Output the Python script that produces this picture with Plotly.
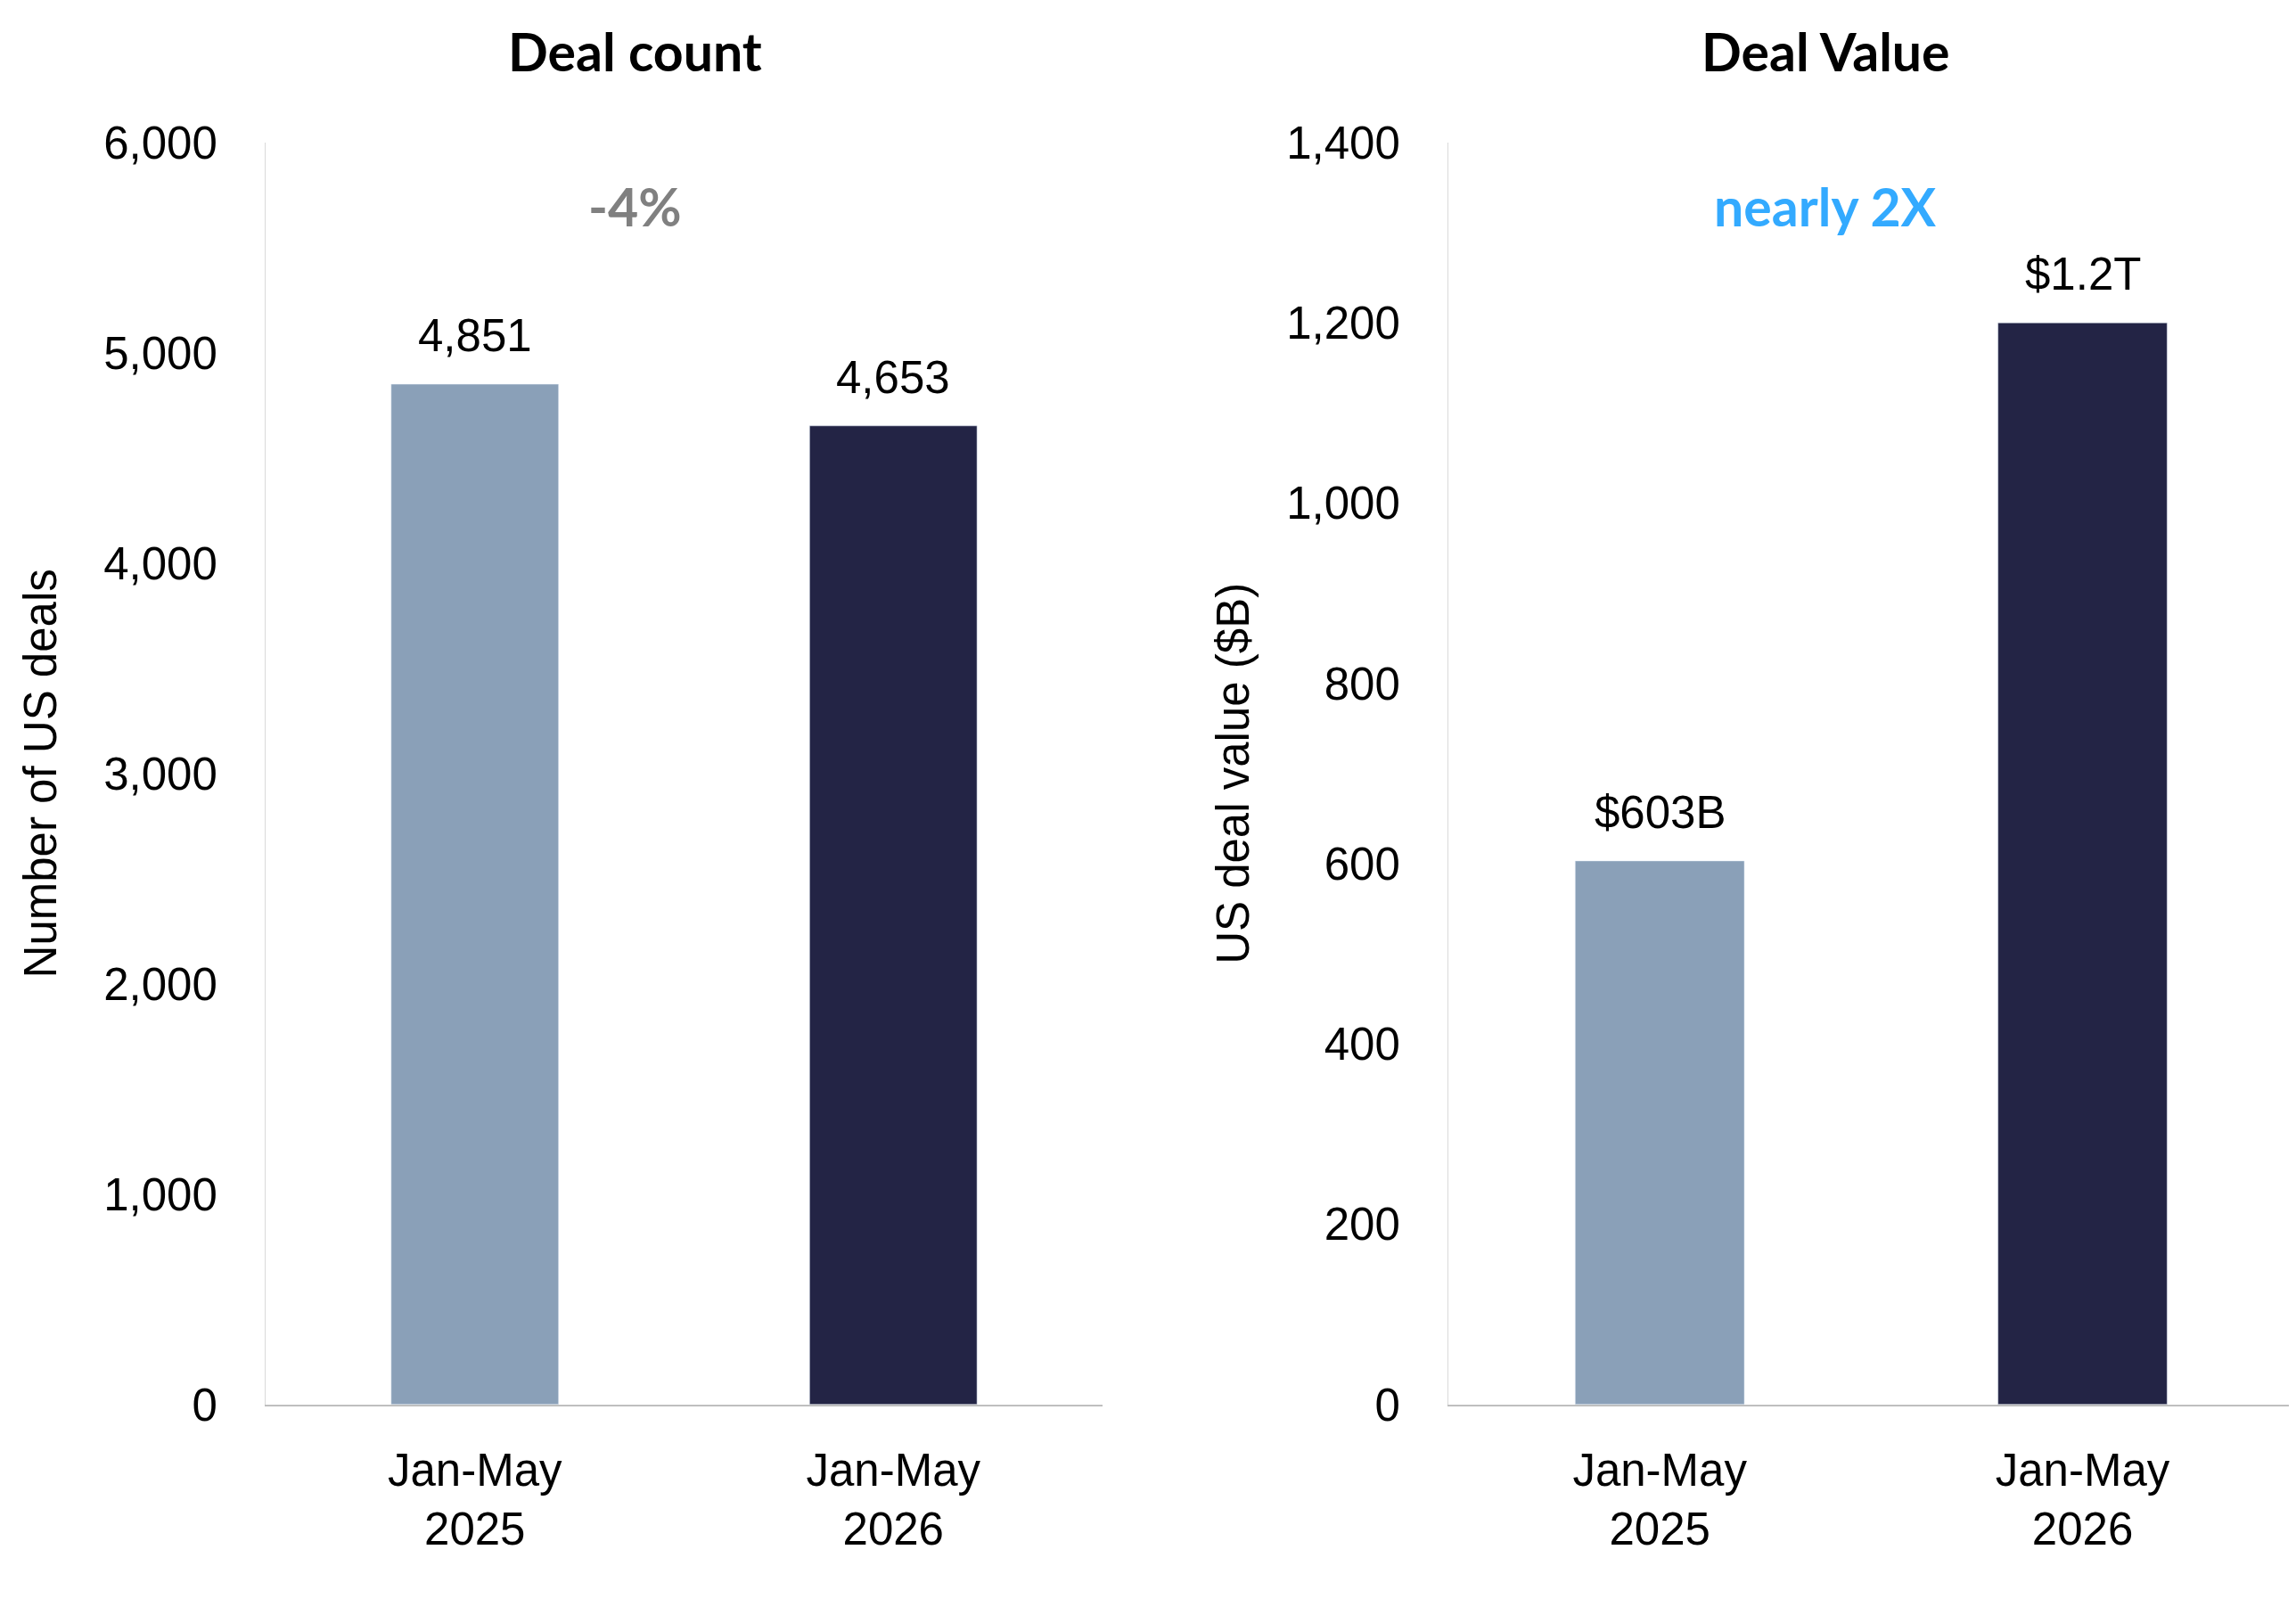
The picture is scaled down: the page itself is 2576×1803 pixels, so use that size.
import plotly.graph_objects as go

categories = ["Jan-May<br>2025", "Jan-May<br>2026"]
deal_count = [4851, 4653]
deal_count_labels = ["4,851", "4,653"]
deal_value = [603, 1200]
deal_value_labels = ["$603B", "$1.2T"]
bar_colors = ["#8AA0B8", "#232445"]
titles = ["Deal count", "Deal Value"]
changes = ["-4%", "nearly 2X"]
change_colors = ["#808080", "#33AAFF"]

W, H = 2576, 1803
fig = go.Figure()

fig.add_trace(go.Bar(x=categories, y=deal_count, marker_color=bar_colors,
                     width=0.4, xaxis="x", yaxis="y", hoverinfo="skip"))
fig.add_trace(go.Bar(x=categories, y=deal_value, marker_color=bar_colors,
                     width=0.4, xaxis="x2", yaxis="y2", hoverinfo="skip"))

tick_font = dict(family="Liberation Sans, Arial", size=51, color="#000000")
ydom = [1 - 1590 / H, 1 - 128 / H]
xd1 = [290 / W, 1229 / W]
xd2 = [1617 / W, 0.996]

axis_common_x = dict(showgrid=False, showline=True, linecolor="#BFBFBF", linewidth=2,
                     ticks="", tickfont=tick_font, zeroline=False, fixedrange=True,
                     ticklabelstandoff=28)
axis_common_y = dict(showgrid=False, showline=True, linecolor="#D9D9D9", linewidth=1,
                     ticks="", tickfont=tick_font, zeroline=False, tickformat=",",
                     ticklabelstandoff=43)

fig.update_layout(
    width=W, height=H,
    margin=dict(l=0, r=0, t=0, b=0),
    paper_bgcolor="white", plot_bgcolor="white",
    showlegend=False,
    xaxis=dict(domain=xd1, anchor="y", **axis_common_x),
    yaxis=dict(domain=ydom, anchor="x", range=[0, 6000], dtick=1000,
               title=dict(text="Number of US deals", font=tick_font, standoff=36),
               **axis_common_y),
    xaxis2=dict(domain=xd2, anchor="y2", **axis_common_x),
    yaxis2=dict(domain=ydom, anchor="x2", range=[0, 1400], dtick=200,
                title=dict(text="US deal value ($B)", font=tick_font, standoff=25),
                **axis_common_y),
)

annotations = []
title_x = [704 / W, 2040 / W]
for cx, t, c, cc in zip(title_x, titles, changes, change_colors):
    annotations.append(dict(text="<b>" + t + "</b>", x=cx, y=1 - 22 / H, xref="paper", yref="paper",
                            showarrow=False, xanchor="center", yanchor="middle",
                            font=dict(family="Lato, Open Sans", size=59, color="#000000")))
    annotations.append(dict(text="<b>" + c + "</b>", x=cx, y=1 - 202 / H, xref="paper", yref="paper",
                            showarrow=False, xanchor="center", yanchor="middle",
                            font=dict(family="Lato, Open Sans", size=59, color=cc)))

for xr, yr, vals, labs in [("x", "y", deal_count, deal_count_labels),
                            ("x2", "y2", deal_value, deal_value_labels)]:
    for cat, v, lab in zip(categories, vals, labs):
        annotations.append(dict(text=lab, x=cat, y=v, xref=xr, yref=yr, showarrow=False,
                                xanchor="center", yanchor="bottom", yshift=24,
                                font=tick_font))

fig.update_layout(annotations=annotations)
fig.write_html("out.html")
